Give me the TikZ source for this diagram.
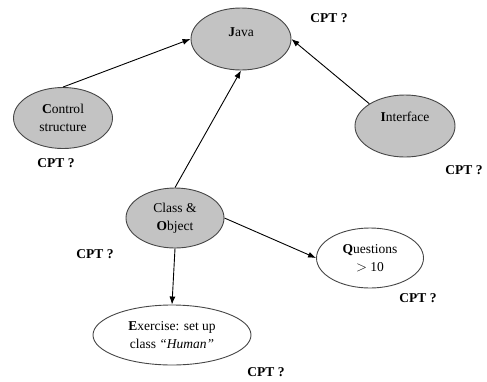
\documentclass[tikz,border=0pt]{standalone}
\usepackage{fontspec}
\setmainfont{Liberation Serif}
\usepackage{xcolor}
\usetikzlibrary{shapes.geometric}
\usetikzlibrary{arrows.meta}

\definecolor{grisbulle}{RGB}{195,195,195}
\definecolor{bordbulle}{RGB}{70,70,70}

\begin{document}
\begin{tikzpicture} [
  x = 1pt, y = -1pt,
  font = \fontsize{13.5}{17.5}\selectfont,
  bulle/.style = {ellipse, draw = bordbulle, line width = 0.9pt, inner sep = 0pt, align = center},
  pleine/.style = {bulle, fill = grisbulle},
  cpt/.style = {font = \fontsize{13.5}{17.5}\selectfont\bfseries, inner sep = 0pt},
  line/.style = {draw, line width = 0.9pt, -{Latex[length=8pt, width=6pt]}},
]

 \useasboundingbox (0,0) rectangle (487,381);

 \node [pleine, minimum width = 100pt, minimum height = 62pt, text height = 9pt, text depth = 14pt] (java) at (241,39) {\textbf{J}ava};
 \node [pleine, minimum width = 99pt, minimum height = 61pt] (ctrl) at (63,118) {\textbf{C}ontrol\\structure};
 \node [pleine, minimum width = 100pt, minimum height = 62pt, text height = 9pt, text depth = 18pt] (intf) at (405,126) {\textbf{I}nterface};
 \node [pleine, minimum width = 98pt, minimum height = 60pt] (classe) at (175,218) {Class \&\\\textbf{O}bject};

 \node [bulle, minimum width = 107pt, minimum height = 60pt] (quest) at (370,258) {\textbf{Q}uestions\\$>$ 10};
 \node [bulle, minimum width = 158pt, minimum height = 60pt] (exo) at (172,335) {\textbf{E}xercise: set up\\class \textit{``Human''}};

 \node [cpt] (cptjava) at (329,18) {CPT ?};
 \node [cpt] (cptctrl) at (56,163) {CPT ?};
 \node [cpt] (cptintf) at (464,170) {CPT ?};
 \node [cpt] (cptclasse) at (95,254) {CPT ?};
 \node [cpt] (cptquest) at (418,298) {CPT ?};
 \node [cpt] (cptexo) at (266,372) {CPT ?};

 \begin{scope}[every path/.style=line]
\path (ctrl.north) -- (java.west) ;
\path (intf.north west) -- (java.east) ;
\path (classe.north) -- (java.south) ;
\path (classe.east) -- (quest.west) ;
\path (classe.south) -- (exo.north) ;
\end{scope}

\end{tikzpicture}
\end{document}
